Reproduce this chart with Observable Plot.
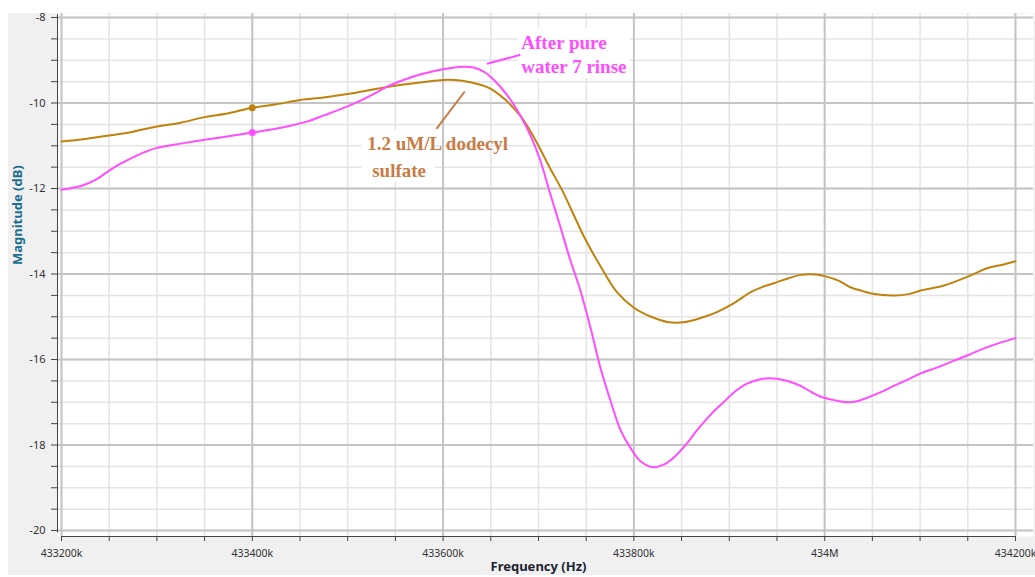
<!DOCTYPE html>
<html><head><meta charset="utf-8">
<script src="https://cdn.jsdelivr.net/npm/d3@7"></script>
<script src="https://cdn.jsdelivr.net/npm/@observablehq/plot@0.6"></script>
<style>
html,body{margin:0;padding:0;background:#fff;}
#wrap{position:relative;width:1035px;height:577px;overflow:hidden;}
#bg{position:absolute;left:8px;top:13px;right:0;bottom:2px;background:#f0f0f0;}
#chart{position:absolute;left:0;top:0;}
</style></head><body>
<div id="wrap"><div id="bg"></div><div id="chart"></div></div>
<script>
// ---- data (frequency in kHz, magnitude in dB) ----
const sdsFreq = [433200,433225,433250,433275,433300,433325,433350,433375,433400,433425,433450,433475,433500,433540,433580,433600,433620,433640,433650,433665,433680,433690,433700,433712,433725,433737,433748,433765,433782,433800,433818,433835,433852,433870,433887,433905,433922,433935,433950,433962,433975,433990,434000,434015,434027,434040,434052,434073,434088,434100,434125,434150,434171,434185,434200];
const sdsMag  = [-10.90,-10.84,-10.76,-10.67,-10.55,-10.46,-10.33,-10.24,-10.11,-10.03,-9.93,-9.87,-9.79,-9.63,-9.51,-9.46,-9.48,-9.58,-9.67,-9.92,-10.27,-10.60,-11.00,-11.52,-12.05,-12.62,-13.14,-13.82,-14.42,-14.79,-15.00,-15.12,-15.13,-15.03,-14.89,-14.68,-14.43,-14.30,-14.19,-14.10,-14.02,-14.01,-14.05,-14.16,-14.31,-14.40,-14.47,-14.50,-14.47,-14.39,-14.27,-14.06,-13.86,-13.79,-13.70];

const rinseFreq = [433200,433222,433237,433250,433262,433275,433287,433300,433325,433350,433375,433400,433420,433440,433458,433475,433492,433510,433527,433543,433560,433578,433600,433620,433632,433643,433652,433660,433670,433681,433692,433702,433712,433723,433733,433744,433755,433765,433776,433786,433796,433807,433820,433831,433842,433855,433866,433880,433894,433906,433918,433935,433950,433962,433975,433986,433996,434010,434024,434035,434045,434060,434073,434087,434100,434116,434132,434150,434167,434185,434200];
const rinseMag  = [-12.03,-11.93,-11.78,-11.58,-11.42,-11.27,-11.15,-11.05,-10.95,-10.86,-10.78,-10.69,-10.62,-10.53,-10.43,-10.29,-10.15,-9.98,-9.79,-9.60,-9.45,-9.32,-9.21,-9.15,-9.17,-9.27,-9.43,-9.62,-9.90,-10.29,-10.78,-11.35,-12.10,-12.90,-13.65,-14.39,-15.30,-16.20,-17.00,-17.65,-18.05,-18.38,-18.52,-18.46,-18.29,-17.98,-17.66,-17.30,-17.00,-16.75,-16.57,-16.45,-16.45,-16.51,-16.62,-16.76,-16.87,-16.95,-17.00,-16.97,-16.89,-16.75,-16.61,-16.47,-16.33,-16.20,-16.06,-15.90,-15.74,-15.60,-15.50];

const markerFreq = [433400];
const markerSds = [-10.11];
const markerRinse = [-10.69];

const xMajorTicks = [433200,433400,433600,433800,434000,434200];
const xMinorTicks = d3.range(433200, 434201, 50);
const yMajorTicks = [-20,-18,-16,-14,-12,-10,-8];
const yMinorTicks = d3.range(-20, -7.9, 0.5);
const xTickLabels = {433200:"433200k",433400:"433400k",433600:"433600k",433800:"433800k",434000:"434M",434200:"434200k"};

const rinseLabel = ["After pure", "water 7 rinse"];
const rinseLabelPos = [{x:433682, y:-8.585}, {x:433682, y:-9.146}];
const sdsLabel = ["1.2 uM/L dodecyl", "sulfate"];
const sdsLabelPos = [{x:433520.4, y:-10.947}, {x:433525.7, y:-11.579}];
const rinsePointer = [{x1:433646, y1:-9.083, x2:433681, y2:-8.873}];
const sdsPointer = [{x1:433593, y1:-10.604, x2:433622.7, y2:-9.731}];
const labelBoxes = [{x1:433678, x2:433796, y1:-8.26, y2:-9.43}, {x1:433515, x2:433592, y1:-10.65, y2:-11.86}];

const sdsData = sdsFreq.map((f,i)=>({f, m:sdsMag[i]}));
const rinseData = rinseFreq.map((f,i)=>({f, m:rinseMag[i]}));

const brown = "#c0820c", pink = "#ff4dff";

const chart = Plot.plot({
  width:1035, height:577,
  marginLeft:57, marginRight:2, marginTop:13, marginBottom:41,
  style:{background:"transparent", fontFamily:"'Noto Sans', 'Open Sans', sans-serif", fontSize:"10.5px", color:"#333"},
  x:{domain:[433195.8,434218.9], label:null},
  y:{domain:[-20.14,-7.906], label:null},
  marks:[
    Plot.frame({fill:"white", stroke:null}),
    Plot.ruleX(xMinorTicks,{stroke:"#e4e4e4", strokeWidth:1.5}),
    Plot.ruleY(yMinorTicks,{stroke:"#e4e4e4", strokeWidth:1.5}),
    Plot.ruleX(xMajorTicks,{stroke:"#c4c4c4", strokeWidth:2}),
    Plot.ruleY(yMajorTicks,{stroke:"#c4c4c4", strokeWidth:2}),
    Plot.rect(labelBoxes,{x1:"x1",x2:"x2",y1:"y1",y2:"y2",fill:"white"}),
    Plot.line(sdsData,{x:"f",y:"m",stroke:brown,strokeWidth:2,curve:"catmull-rom"}),
    Plot.line(rinseData,{x:"f",y:"m",stroke:pink,strokeWidth:2,curve:"catmull-rom"}),
    Plot.dot(markerFreq,{x:d=>d,y:(d,i)=>markerSds[i],r:3.5,fill:brown}),
    Plot.dot(markerFreq,{x:d=>d,y:(d,i)=>markerRinse[i],r:3.5,fill:pink}),
    Plot.link(rinsePointer,{x1:"x1",y1:"y1",x2:"x2",y2:"y2",stroke:pink,strokeWidth:2}),
    Plot.link(sdsPointer,{x1:"x1",y1:"y1",x2:"x2",y2:"y2",stroke:"#c97b45",strokeWidth:2}),
    Plot.text(rinseLabel,{x:(d,i)=>rinseLabelPos[i].x,y:(d,i)=>rinseLabelPos[i].y,text:d=>d,textAnchor:"start",fill:pink,fontFamily:"'Liberation Serif', serif",fontWeight:"bold",fontSize:19}),
    Plot.text(sdsLabel,{x:(d,i)=>sdsLabelPos[i].x,y:(d,i)=>sdsLabelPos[i].y,text:d=>d,textAnchor:"start",fill:"#c97b45",fontFamily:"'Liberation Serif', serif",fontWeight:"bold",fontSize:19}),
    // axis lines
    Plot.ruleX([433195.8],{y1:-7.93,y2:-20.06,stroke:"#444",strokeWidth:1}),
    Plot.ruleY([-20.14],{x1:433200,x2:434200,stroke:"#444",strokeWidth:1}),
    Plot.axisX({ticks:xMinorTicks,tickSize:5,tickPadding:8,stroke:"#444",fill:"#333",tickFormat:d=>xTickLabels[d]||"",label:null}),
    Plot.axisY({ticks:yMinorTicks,tickSize:6,tickPadding:6,stroke:"#444",fill:"#333",fontSize:11,tickFormat:d=>Number.isInteger(d/2)?String(d):"",label:null}),
    Plot.text(["Frequency (Hz)"],{frameAnchor:"bottom",dx:-7,dy:34,text:d=>d,fontWeight:"bold",fontSize:13,fill:"#1c2333"}),
    Plot.text(["Magnitude (dB)"],{frameAnchor:"left",dx:-40,dy:-10,rotate:-90,text:d=>d,fontWeight:"bold",fontSize:13,fill:"#1b6e8e"})
  ]
});
document.getElementById("chart").appendChild(chart);
</script>
</body></html>
